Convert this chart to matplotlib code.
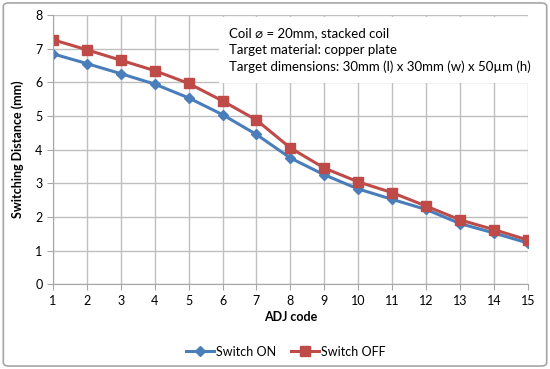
import matplotlib.pyplot as plt
from matplotlib.patches import FancyBboxPatch

adj_code = list(range(1, 16))
switch_on = [6.85, 6.56, 6.26, 5.95, 5.54, 5.04, 4.45, 3.75, 3.25, 2.83, 2.52, 2.22, 1.80, 1.52, 1.22]
switch_off = [7.27, 6.97, 6.66, 6.35, 5.97, 5.45, 4.88, 4.05, 3.45, 3.04, 2.72, 2.32, 1.91, 1.62, 1.31]
notes = ["Coil \u2300 = 20mm, stacked coil",
         "Target material: copper plate",
         "Target dimensions: 30mm (l) x 30mm (w) x 50\u00b5m (h)"]

plt.rcParams['font.family'] = ['Lato', 'DejaVu Sans']

fig = plt.figure(figsize=(5.5, 3.69), dpi=100)
ax = fig.add_axes([0.096, 0.230, 0.864, 0.729])

fig.patches.append(FancyBboxPatch((0.006, 0.008), 0.988, 0.984, boxstyle="round,pad=0,rounding_size=0.01",
                                  transform=fig.transFigure, fill=False, edgecolor='#a6a6a6', lw=1.2))

ax.plot(adj_code, switch_on, color='#4a7ebb', lw=2.2, marker='D', ms=5, label='Switch ON')
ax.plot(adj_code, switch_off, color='#be4b48', lw=2.2, marker='s', ms=7, label='Switch OFF')

ax.set_xlim(1, 15)
ax.set_ylim(0, 8)
ax.set_xticks(adj_code)
ax.set_yticks(range(0, 9))
ax.grid(True, color='#bfbfbf', lw=1)
ax.set_axisbelow(True)
for s in ['top', 'right']:
    ax.spines[s].set_visible(False)
for s in ['left', 'bottom']:
    ax.spines[s].set_color('#a6a6a6')
ax.tick_params(colors='#a6a6a6', labelcolor='black', labelsize=9, length=4)
ax.set_xlabel('ADJ code', fontsize=9, fontweight='bold', labelpad=3)
ax.set_ylabel('Switching Distance (mm)', fontsize=9, fontweight='bold', labelpad=8)

ax.text(0.371, 0.955, "\n".join(notes), transform=ax.transAxes, fontsize=9.5, va='top', ha='left',
        linespacing=1.45, bbox=dict(facecolor='white', edgecolor='none', pad=7))

fig.legend(loc='lower center', bbox_to_anchor=(0.52, 0.0), ncol=2, frameon=False, fontsize=9,
           handlelength=2.2, columnspacing=1.2, handletextpad=0.2)

fig.savefig('out.png', dpi=100)
